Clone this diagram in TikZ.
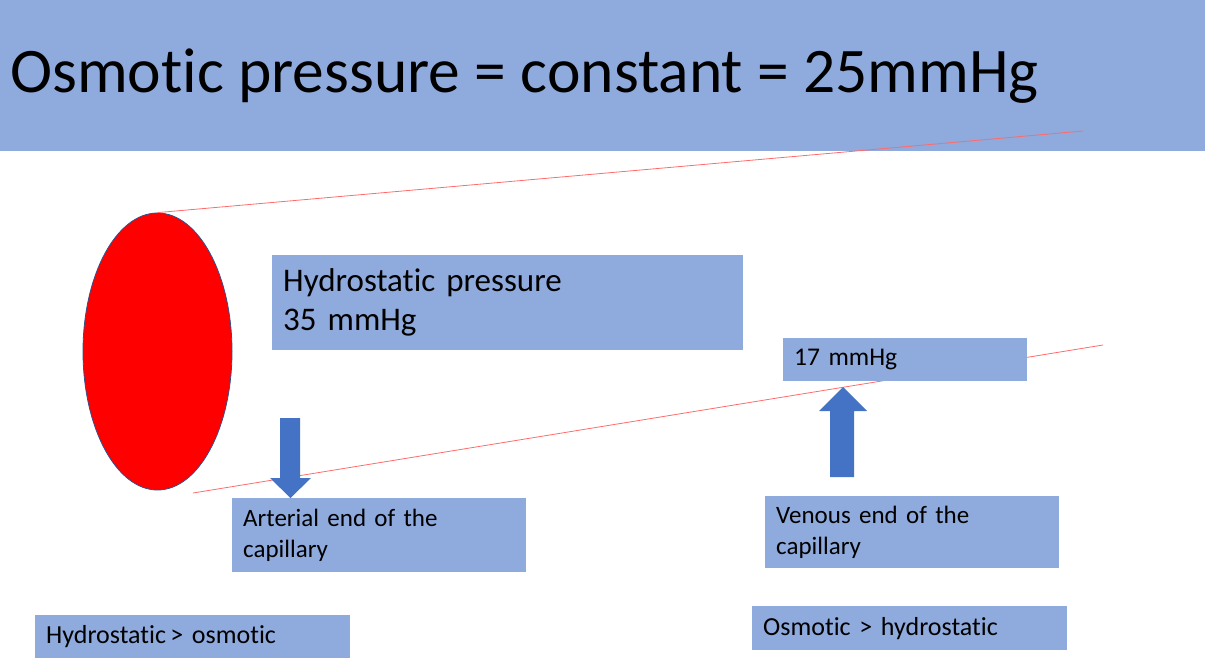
\documentclass[tikz,border=0pt]{standalone}
\usepackage{fontspec}
\setmainfont{Carlito}[Ligatures=NoCommon]
\usetikzlibrary{shapes.geometric}
\definecolor{paleblue}{HTML}{8FAADC}
\definecolor{deepblue}{HTML}{4472C4}
\definecolor{rimblue}{HTML}{2F528F}
\definecolor{vesselred}{HTML}{FF6B6B}
\tikzset{
  infobox/.style={fill=paleblue, anchor=north west, align=left, inner xsep=11pt, inner ysep=0pt},
  vessel/.style={vesselred, line width=0.8pt}
}
\begin{document}
\begin{tikzpicture}[x=1pt, y=-1pt]
\useasboundingbox (0,0) rectangle (1205,664);
\fill[paleblue] (0,0) rectangle (1205,151);
\node[anchor=base west, inner sep=0pt, font=\fontsize{63.5}{70}\selectfont] (title) at (10,92) {Osmotic pressure = constant = 25mmHg};

% the vessel
\node[ellipse, draw=rimblue, fill=red, line width=0.8pt, minimum width=149pt, minimum height=277pt, inner sep=0pt] (cell) at (157.5,351.5) {};
\coordinate (topend) at (1083,131);
\coordinate (lowstart) at (193,493);
\coordinate (lowend) at (1103,345);
\draw[vessel] (cell.north) -- (topend);
\draw[vessel] (lowstart) -- (lowend);

% labels
\node[infobox, minimum width=471pt, minimum height=95pt, text width=449pt, font=\fontsize{33}{39}\selectfont] (hydro) at (272,255) {Hydrostatic pressure\\35 mmHg};
\node[infobox, minimum width=244pt, minimum height=43pt, text width=222pt, font=\fontsize{25.5}{28}\selectfont] (venp) at (783,338) {17 mmHg};
\node[infobox, minimum width=294pt, minimum height=74pt, text width=272pt, font=\fontsize{25}{31}\selectfont] (arterial) at (232,498) {Arterial end of the\\capillary};
\node[infobox, minimum width=294pt, minimum height=72pt, text width=272pt, font=\fontsize{25}{31}\selectfont] (venous) at (765,496) {Venous end of the\\capillary};
\node[infobox, minimum width=315pt, minimum height=43pt, text width=293pt, font=\fontsize{26}{28}\selectfont] (hyd-osm) at (35,615) {Hydrostatic\,> osmotic};
\node[infobox, minimum width=315pt, minimum height=44pt, text width=293pt, font=\fontsize{26}{28}\selectfont] (osm-hyd) at (752,606) {Osmotic > hydrostatic};

% block arrows
\fill[deepblue] (280,418) -- (300,418) -- (300,478) -- (311,478) -- (290.5,498) -- (270,478) -- (280,478) -- cycle;
\fill[deepblue] (830,477) -- (854,477) -- (854,411) -- (867,411) -- (843,387) -- (819,411) -- (830,411) -- cycle;

\end{tikzpicture}
\end{document}
